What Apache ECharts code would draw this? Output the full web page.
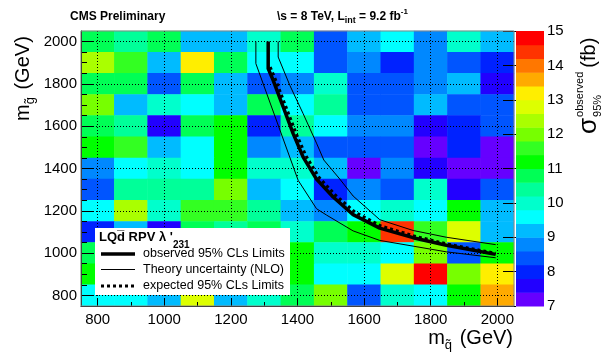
<!DOCTYPE html>
<html>
<head>
<meta charset="utf-8">
<script src="https://cdn.jsdelivr.net/npm/echarts@6/dist/echarts.min.js"></script>
<style>
    html, body { margin: 0; padding: 0; background: #fff; }
    #chart { width: 606px; height: 356px; }
</style>
</head>
<body>
<div id="chart"></div>
<script>
// cell centres (GeV)
const squarkMasses = [800, 900, 1000, 1100, 1200, 1300, 1400, 1500, 1600, 1700, 1800, 1900, 2000]
const gluinoMasses = [800, 900, 1000, 1100, 1200, 1300, 1400, 1500, 1600, 1700, 1800, 1900, 2000]

// observed 95% CLs cross section (fb), one row per gluino mass, from 2000 (top) down to 800
const sigmaRows = [
    [10.8, 10.4, 10.8, 9.2, 9.2, 10.0, 10.8, 8.4, 9.2, 9.6, 8.8, 10.0, 9.2],
    [12.4, 11.6, 9.2, 13.2, 10.8, 9.6, 9.6, 8.4, 8.8, 8.0, 8.8, 8.4, 8.0],
    [10.8, 10.8, 8.4, 10.8, 9.2, 8.4, 8.8, 10.0, 8.4, 8.4, 8.8, 9.2, 7.6],
    [12.0, 9.2, 10.0, 9.6, 9.2, 10.8, 9.6, 10.4, 8.4, 8.4, 9.2, 8.4, 8.4],
    [10.8, 10.4, 7.6, 10.8, 11.2, 8.0, 10.4, 9.6, 8.8, 8.8, 7.6, 8.0, 8.4],
    [11.2, 11.6, 9.2, 9.6, 11.2, 8.8, 9.2, 8.4, 8.4, 8.4, 7.2, 8.0, 7.2],
    [8.8, 9.6, 10.0, 9.6, 11.2, 10.0, 10.0, 9.2, 7.2, 8.8, 7.6, 7.2, 7.2],
    [8.4, 10.4, 10.4, 10.4, 12.0, 9.2, 9.6, 8.0, 8.8, 8.4, 10.0, 7.6, 8.4],
    [9.6, 12.4, 10.0, 11.6, 11.6, 10.4, 9.2, 8.8, 9.6, 10.0, 9.6, 11.2, 9.2],
    [8.0, 9.2, 7.6, 10.8, 10.4, 10.8, 10.0, 10.8, 11.2, 14.4, 11.6, 12.8, 9.2],
    [10.8, 10.4, 9.6, 11.2, 10.0, 10.4, 11.2, 10.0, 10.0, 9.6, 12.0, 8.4, 11.2],
    [11.2, 10.0, 10.8, 9.6, 11.6, 10.4, 11.2, 9.6, 9.6, 12.8, 14.8, 12.0, 13.2],
    [9.6, 9.6, 9.2, 12.8, 9.2, 10.0, 10.8, 12.0, 8.4, 10.0, 9.6, 11.2, 13.6]
]

// limit curves [m_squark, m_gluino]
const observedLimit = [[1312, 2000], [1312, 1872], [1327, 1817], [1357, 1691], [1387, 1565], [1417, 1454], [1457, 1350], [1507, 1265], [1567, 1182], [1647, 1118], [1747, 1073], [1847, 1037], [1995, 994]]
const expectedLimit = [[1318, 1880], [1336, 1812], [1366, 1688], [1396, 1565], [1426, 1458], [1465, 1357], [1514, 1274], [1573, 1193], [1651, 1128], [1750, 1081], [1849, 1043], [1995, 999]]
const theoryUp = [[1342, 2000], [1342, 1927], [1377, 1793], [1417, 1659], [1457, 1520], [1479, 1440], [1527, 1350], [1567, 1270], [1647, 1158], [1747, 1107], [1847, 1075], [1995, 1040]]
const theoryDown = [[1275, 2000], [1275, 1896], [1402, 1344], [1457, 1210], [1487, 1180], [1567, 1105], [1647, 1060], [1747, 1033], [1847, 1006], [1995, 978]]

// ticks
const xTicks = [800, 1000, 1200, 1400, 1600, 1800, 2000]
const xMinorTicks = [900, 1100, 1300, 1500, 1700, 1900]
const yTicks = [800, 1000, 1200, 1400, 1600, 1800, 2000]
const yMinorTicks = [850, 900, 950, 1050, 1100, 1150, 1250, 1300, 1350, 1450, 1500, 1550, 1650, 1700, 1750, 1850, 1900, 1950]

// colour scale: 20 contour levels from 7 to 15 fb
const zLevels = [7.0, 7.4, 7.8, 8.2, 8.6, 9.0, 9.4, 9.8, 10.2, 10.6, 11.0, 11.4, 11.8, 12.2, 12.6, 13.0, 13.4, 13.8, 14.2, 14.6, 15.0]
const paletteColors = ['#6600ff', '#2200ff', '#0022ff', '#0055ff', '#0088ff', '#00bbff', '#00ffff', '#00ffcc', '#00ff99', '#00ff55',
    '#00ff00', '#33ff22', '#77ff00', '#aaff00', '#ddff00', '#ffee00', '#ffaa00', '#ff7700', '#ff3300', '#ff0000']

const FONT = '"Liberation Sans", Arial, sans-serif'

const heatData = []
sigmaRows.forEach((row, r) => {
    row.forEach((v, c) => {
        heatData.push([c, gluinoMasses.length - 1 - r, v])
    })
})

const pieces = paletteColors.map((color, i) => ({ gte: zLevels[i], lt: zLevels[i + 1], color: color }))
pieces[pieces.length - 1].lte = zLevels[zLevels.length - 1]
const paletteBands = paletteColors.map((_, i) => [0, zLevels[i], zLevels[i + 1], i])

// text helpers for the ROOT style labels with sub/superscripts
const measureCtx = document.createElement('canvas').getContext('2d')
function fontStr(size, bold) {
    return (bold ? 'bold ' : '') + size + 'px ' + FONT
}
function measure(text, font) {
    measureCtx.font = font
    return measureCtx.measureText(text).width
}
function rowWidth(pieces) {
    return pieces.reduce((w, p) => w + measure(p.text, fontStr(p.size, p.bold)) + (p.gap || 0), 0)
}
function textEl(text, font, x, y, z) {
    return {
        type: 'text', x: x, y: y, z: z || 100,
        style: { text: text, font: font, fill: '#000', align: 'left', verticalAlign: 'middle', textAlign: 'left', textVerticalAlign: 'middle' }
    }
}
function textRow(pieces, x0, y0, z) {
    let x = x0
    return pieces.map(p => {
        const font = fontStr(p.size, p.bold)
        const el = textEl(p.text, font, x, y0 + (p.dy || 0), z)
        x += measure(p.text, font) + (p.gap || 0)
        return el
    })
}

const energyLabel = [
    { text: '\\s = 8 TeV, L', size: 12, bold: true },
    { text: 'int', size: 9, bold: true, dy: 4 },
    { text: ' = 9.2 fb', size: 12, bold: true },
    { text: '-1', size: 8, bold: true, dy: -5 }
]
const xTitle = [
    { text: 'm', size: 20 },
    { text: 'q\u0303', size: 13, dy: 7, gap: 2 },
    { text: ' (GeV)', size: 20 }
]
const yTitle = [
    { text: 'm', size: 20 },
    { text: 'g\u0303', size: 13, dy: 7, gap: 2 },
    { text: ' (GeV)', size: 20 }
]
const zTitle = [
    { text: '\u03c3', size: 26, gap: 1 },
    { text: 'observed', size: 11, dy: -9, gap: 4 },
    { text: '(fb)', size: 20 }
]
const legendTitle = [
    { text: 'LQd\u0305 RPV \u03bb \'', size: 13, bold: true },
    { text: '231', size: 10, bold: true, dy: 8 }
]

const xTitleWidth = rowWidth(xTitle)
const sigmaWidth = measure('\u03c3', fontStr(26)) + 1
const plainNumber = v => String(v)

const chart = echarts.init(document.getElementById('chart'))

const option = {
    animation: false,
    backgroundColor: '#fff',
    textStyle: { fontFamily: FONT },
    grid: [
        { left: 81, top: 31, width: 433, height: 275, show: false },
        { left: 81, top: 31, width: 433, height: 275, show: true, z: 6, borderColor: '#888', borderWidth: 1, backgroundColor: 'transparent' },
        { left: 516, top: 31, width: 28, height: 275, show: false }
    ],
    xAxis: [
        { type: 'category', gridIndex: 0, data: squarkMasses, show: false },
        {
            type: 'value', gridIndex: 1, min: 750, max: 2050, position: 'bottom', z: 5,
            axisLine: { show: true, onZero: false, lineStyle: { color: '#000' } },
            axisTick: { show: true, inside: true, length: 8, customValues: xTicks, lineStyle: { color: '#000' } },
            axisLabel: { customValues: xTicks, formatter: plainNumber, margin: 6, fontSize: 15, color: '#000', fontFamily: FONT },
            splitLine: { show: true, lineStyle: { color: '#000', width: 1, type: [1, 2] } }
        },
        {
            type: 'value', gridIndex: 1, min: 750, max: 2050, position: 'bottom', z: 5,
            axisLine: { show: false, onZero: false },
            axisTick: { show: true, inside: true, length: 4, customValues: xMinorTicks, lineStyle: { color: '#000' } },
            axisLabel: { show: false },
            splitLine: { show: false }
        },
        { type: 'value', gridIndex: 2, min: 0, max: 1, show: false }
    ],
    yAxis: [
        { type: 'category', gridIndex: 0, data: gluinoMasses, show: false },
        {
            type: 'value', gridIndex: 1, min: 750, max: 2050, position: 'left', z: 5,
            axisLine: { show: true, onZero: false, lineStyle: { color: '#000' } },
            axisTick: { show: true, inside: true, length: 13, customValues: yTicks, lineStyle: { color: '#000' } },
            axisLabel: { customValues: yTicks, formatter: plainNumber, margin: 4, fontSize: 15, color: '#000', fontFamily: FONT },
            splitLine: { show: true, lineStyle: { color: '#000', width: 1, type: [1, 2] } }
        },
        {
            type: 'value', gridIndex: 1, min: 750, max: 2050, position: 'left', z: 5,
            axisLine: { show: false, onZero: false },
            axisTick: { show: true, inside: true, length: 6, customValues: yMinorTicks, lineStyle: { color: '#000' } },
            axisLabel: { show: false },
            splitLine: { show: false }
        },
        {
            type: 'value', gridIndex: 2, min: 7, max: 15, interval: 1, position: 'right', z: 5,
            axisLine: { show: false },
            axisTick: { show: true, inside: true, length: 13, lineStyle: { color: '#000' } },
            axisLabel: { margin: 3, fontSize: 15, color: '#000', fontFamily: FONT },
            splitLine: { show: false }
        }
    ],
    visualMap: [
        { type: 'piecewise', show: false, seriesIndex: 0, dimension: 2, pieces: pieces }
    ],
    series: [
        {
            type: 'heatmap', xAxisIndex: 0, yAxisIndex: 0, data: heatData, z: 2,
            itemStyle: { borderWidth: 0 },
            emphasis: { disabled: true }
        },
        {
            type: 'custom', xAxisIndex: 3, yAxisIndex: 3, data: paletteBands, z: 2,
            encode: { x: 0, y: [1, 2] },
            renderItem: (params, api) => {
                const lo = api.coord([0, api.value(1)])
                const hi = api.coord([1, api.value(2)])
                return {
                    type: 'rect',
                    shape: { x: lo[0], y: hi[1], width: hi[0] - lo[0], height: lo[1] - hi[1] + 0.5 },
                    style: { fill: paletteColors[api.value(3)] }
                }
            }
        },
        {
            name: 'Theory uncertainty (NLO)', type: 'line', xAxisIndex: 1, yAxisIndex: 1, data: theoryUp, z: 10,
            symbol: 'none', lineStyle: { color: '#000', width: 1 }
        },
        {
            name: 'Theory uncertainty (NLO)', type: 'line', xAxisIndex: 1, yAxisIndex: 1, data: theoryDown, z: 10,
            symbol: 'none', lineStyle: { color: '#000', width: 1 }
        },
        {
            name: 'expected 95% CLs Limits', type: 'line', xAxisIndex: 1, yAxisIndex: 1, data: expectedLimit, z: 10,
            symbol: 'none', lineStyle: { color: '#000', width: 3, type: [3, 3] }
        },
        {
            name: 'observed 95% CLs Limits', type: 'line', xAxisIndex: 1, yAxisIndex: 1, data: observedLimit, z: 11,
            symbol: 'none', lineStyle: { color: '#000', width: 3.5 }
        }
    ],
    graphic: [
        textEl('CMS Preliminary', fontStr(12, true), 70, 17),
        { type: 'group', children: textRow(energyLabel, 277, 17) },
        { type: 'group', children: textRow(xTitle, 513 - xTitleWidth, 338) },
        { type: 'group', x: 23, y: 121, rotation: Math.PI / 2, children: textRow(yTitle, 0, 0) },
        {
            type: 'group', x: 589, y: 134, rotation: Math.PI / 2,
            children: textRow(zTitle, 0, 0).concat([textEl('95%', fontStr(11), sigmaWidth, 9)])
        },
        // legend box
        { type: 'rect', z: 100, shape: { x: 95, y: 228, width: 195, height: 67 }, style: { fill: '#fff' } },
        { type: 'group', children: textRow(legendTitle, 99, 237, 101) },
        { type: 'line', z: 101, shape: { x1: 101, y1: 254, x2: 135, y2: 254 }, style: { stroke: '#000', lineWidth: 3.5 } },
        { type: 'line', z: 101, shape: { x1: 101, y1: 269.5, x2: 135, y2: 269.5 }, style: { stroke: '#000', lineWidth: 1 } },
        { type: 'line', z: 101, shape: { x1: 101, y1: 286, x2: 135, y2: 286 }, style: { stroke: '#000', lineWidth: 3, lineDash: [3, 3] } },
        textEl('observed 95% CLs Limits', fontStr(12.5), 143, 254, 101),
        textEl('Theory uncertainty (NLO)', fontStr(12.5), 143, 269.5, 101),
        textEl('expected 95% CLs Limits', fontStr(12.5), 143, 286, 101)
    ]
}

chart.setOption(option)
</script>
</body>
</html>
